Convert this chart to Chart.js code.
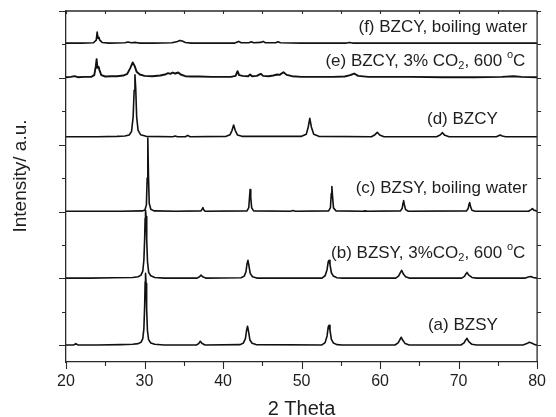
<!DOCTYPE html>
<html>
<head>
<meta charset="utf-8">
<script src="https://cdn.jsdelivr.net/npm/chart.js@4/dist/chart.umd.min.js"></script>
<style>
  html, body { margin: 0; padding: 0; background: #fff; }
  canvas { display: block; }
</style>
</head>
<body>
<canvas id="xrd-chart" width="556" height="417"></canvas>
<script>
'use strict';

// ── Data (2θ in degrees, intensity in a.u. above each pattern's baseline) ──
const patternA = [
  [20,0.01],[21.0,0.01],[21.25,0.05],[21.5,0.01],[24,0.01],[27,0.02],[28.5,0.03],[29.2,0.05],[29.55,0.09],
  [29.78,0.2],[29.92,0.5],[30.02,1.2],[30.08,1.9],[30.13,2.15],[30.2,1.85],[30.27,1.1],[30.37,0.45],[30.52,0.17],
  [30.8,0.07],[31.3,0.03],[32.5,0.01],[36.6,0.01],[36.9,0.05],[37.1,0.12],[37.3,0.06],[37.7,0.01],[42.2,0.02],
  [42.6,0.07],[42.85,0.2],[43.0,0.45],[43.12,0.57],[43.26,0.4],[43.42,0.16],[43.7,0.06],[44.2,0.02],[52.6,0.01],
  [53.0,0.08],[53.25,0.28],[53.4,0.55],[53.5,0.6],[53.62,0.45],[53.8,0.18],[54.05,0.07],[54.5,0.02],[55.2,0.01],
  [61.9,0.01],[62.3,0.07],[62.55,0.18],[62.7,0.24],[62.9,0.15],[63.2,0.05],[63.7,0.01],[70.3,0.01],[70.7,0.07],
  [70.95,0.18],[71.05,0.21],[71.3,0.11],[71.7,0.03],[72.3,0.01],[78.2,0.01],[78.7,0.05],[79.0,0.09],[79.3,0.07],
  [79.7,0.02],[80,0.01],
];
const patternB = [
  [20,0.01],[23,0.01],[26,0.02],[28.5,0.03],[29.2,0.05],[29.55,0.1],[29.78,0.22],[29.92,0.55],[30.02,1.2],
  [30.08,1.8],[30.13,2.04],[30.2,1.85],[30.28,1.15],[30.38,0.5],[30.53,0.18],[30.8,0.08],[31.3,0.03],[32.5,0.01],
  [36.7,0.01],[37.0,0.05],[37.2,0.1],[37.4,0.05],[37.8,0.01],[42.3,0.02],[42.7,0.07],[42.92,0.2],[43.05,0.43],
  [43.17,0.54],[43.3,0.38],[43.46,0.15],[43.75,0.05],[44.3,0.01],[52.6,0.01],[53.0,0.08],[53.25,0.26],
  [53.4,0.5],[53.5,0.54],[53.62,0.42],[53.8,0.17],[54.05,0.07],[54.5,0.02],[55.2,0.01],[62.0,0.01],[62.35,0.07],
  [62.6,0.18],[62.75,0.24],[62.95,0.14],[63.25,0.05],[63.7,0.01],[70.4,0.01],[70.75,0.06],[70.97,0.15],
  [71.07,0.18],[71.3,0.1],[71.7,0.03],[72.3,0.01],[78.5,0.01],[78.9,0.04],[79.2,0.06],[79.5,0.03],[80,0.01],
];
const patternC = [
  [20,0.01],[24,0.01],[27,0.01],[29.7,0.02],[30.05,0.05],[30.24,0.2],[30.34,1.0],[30.42,2.2],[30.5,1.1],
  [30.6,0.25],[30.8,0.07],[31.2,0.02],[34,0.01],[37.2,0.02],[37.35,0.08],[37.43,0.12],[37.52,0.06],[37.7,0.01],
  [43.05,0.02],[43.28,0.12],[43.39,0.48],[43.45,0.66],[43.53,0.42],[43.65,0.11],[43.9,0.02],[48.6,0.01],
  [48.9,0.03],[49.2,0.01],[53.45,0.02],[53.68,0.12],[53.79,0.55],[53.86,0.75],[53.94,0.47],[54.07,0.11],
  [54.4,0.02],[57.8,0.01],[58.1,0.02],[58.4,0.01],[62.6,0.02],[62.82,0.1],[62.95,0.28],[63.0,0.33],[63.1,0.2],
  [63.25,0.06],[63.6,0.01],[71.0,0.02],[71.22,0.09],[71.35,0.24],[71.42,0.27],[71.52,0.15],[71.7,0.04],
  [72.1,0.01],[78.9,0.01],[79.25,0.06],[79.4,0.09],[79.55,0.05],[80,0.01],
];
const patternD = [
  [20,0.01],[24,0.01],[26.5,0.02],[27.5,0.03],[28.05,0.06],[28.35,0.17],[28.55,0.6],[28.68,1.4],[28.78,1.86],
  [28.88,1.45],[29.0,0.6],[29.18,0.2],[29.5,0.07],[30.2,0.02],[33.6,0.01],[33.9,0.03],[34.2,0.01],[35.2,0.01],
  [35.5,0.05],[35.8,0.01],[40.4,0.02],[40.9,0.07],[41.15,0.2],[41.35,0.36],[41.55,0.2],[41.85,0.06],[42.4,0.02],
  [50.0,0.02],[50.6,0.08],[50.85,0.3],[51.05,0.56],[51.25,0.3],[51.55,0.08],[52.2,0.02],[58.9,0.01],[59.35,0.07],
  [59.65,0.14],[59.95,0.06],[60.5,0.01],[67.2,0.01],[67.65,0.06],[67.95,0.13],[68.25,0.05],[68.8,0.01],
  [74.8,0.01],[75.1,0.04],[75.3,0.06],[75.55,0.03],[76,0.01],[80,0.01],
];
const patternE = [
  [20,0.02],[20.6,0.03],[21.1,0.05],[21.5,0.02],[22.3,0.03],[23.2,0.03],[23.6,0.08],[23.8,0.35],[23.9,0.56],
  [24.0,0.3],[24.15,0.33],[24.25,0.24],[24.5,0.08],[25,0.04],[25.8,0.05],[26.5,0.05],[27.3,0.07],[27.8,0.12],
  [28.2,0.3],[28.5,0.46],[28.75,0.35],[29.0,0.18],[29.4,0.1],[30.0,0.06],[31,0.05],[32,0.07],[32.6,0.1],
  [33.0,0.14],[33.3,0.12],[33.6,0.16],[33.9,0.13],[34.3,0.16],[34.6,0.1],[35.2,0.05],[36,0.04],[37,0.04],
  [38.5,0.03],[40,0.03],[41.0,0.03],[41.6,0.06],[41.85,0.2],[42.05,0.08],[42.5,0.06],[43.2,0.05],[43.45,0.1],
  [43.7,0.05],[44.3,0.06],[44.8,0.12],[45.1,0.06],[45.8,0.05],[46.4,0.07],[46.9,0.1],[47.2,0.09],[47.7,0.17],
  [48.1,0.09],[48.8,0.05],[50,0.03],[52,0.03],[54,0.03],[55.5,0.04],[56.2,0.08],[56.7,0.13],[57.2,0.06],
  [58.5,0.03],[61,0.03],[64,0.03],[68,0.02],[72,0.02],[75.5,0.03],[77.0,0.05],[78,0.03],[80,0.02],
];
const patternF = [
  [20,0.01],[22,0.01],[23.5,0.02],[23.85,0.1],[23.97,0.34],[24.08,0.15],[24.2,0.18],[24.3,0.1],[24.6,0.03],
  [25.5,0.01],[27.5,0.02],[27.9,0.04],[28.3,0.02],[28.9,0.03],[29.4,0.01],[31,0.01],[33.5,0.02],[34.2,0.06],
  [34.5,0.09],[34.8,0.07],[35.2,0.03],[36,0.01],[41.5,0.01],[42.0,0.06],[42.3,0.02],[43.3,0.02],[43.6,0.05],
  [43.9,0.02],[44.8,0.03],[45.1,0.06],[45.4,0.02],[46.7,0.02],[47.0,0.05],[47.3,0.02],[50,0.01],[55.7,0.01],
  [56.1,0.03],[56.5,0.01],[60,0.01],[70,0.01],[80,0.01],
];

const patterns = [patternA, patternB, patternC, patternD, patternE, patternF];
const offsets  = [0, 2, 4, 6.23, 8.0, 9.03];

// label text split into [text, 'sub'|'sup'|''] pieces
const labelParts = [
  [['(a) BZSY', '']],
  [['(b) BZSY, 3%CO', ''], ['2', 'sub'], [', 600 ', ''], ['o', 'sup'], ['C', '']],
  [['(c) BZSY, boiling water', '']],
  [['(d) BZCY', '']],
  [['(e) BZCY, 3% CO', ''], ['2', 'sub'], [', 600 ', ''], ['o', 'sup'], ['C', '']],
  [['(f) BZCY, boiling water', '']],
];
const labelTheta = [75.0, 78.5, 78.75, 75.0, 78.5, 78.75];   // right end of label
const labelLevel = [0.6, 2.75, 4.7, 6.77, 8.5, 9.52];

const xTicks = [20, 30, 40, 50, 60, 70, 80];

const FONT = "'Liberation Sans', Arial, Helvetica, sans-serif";
const INK  = '#111';
const AXIS = '#2a2a2a';

// ── Frame, ticks, labels, axis titles ──
const xrdDecor = {
  id: 'xrdDecor',
  afterDraw(chart) {
    const { ctx, chartArea: a, scales: { x, y } } = chart;
    ctx.save();
    ctx.strokeStyle = AXIS;
    ctx.lineWidth = 1.3;
    ctx.beginPath();
    ctx.moveTo(a.left, a.top); ctx.lineTo(a.right, a.top);
    ctx.moveTo(a.right, a.top); ctx.lineTo(a.right, a.bottom);
    ctx.stroke();

    ctx.lineWidth = 1.1;
    ctx.beginPath();
    for (let t = 20; t <= 80; t += 5) {
      const px = Math.round(x.getPixelForValue(t)) + 0.5;
      const len = t % 10 === 0 ? 7 : 4;
      ctx.moveTo(px, a.bottom); ctx.lineTo(px, a.bottom + len);
      ctx.moveTo(px, a.top); ctx.lineTo(px, a.top + 3);
    }
    for (let v = 0; v <= 10; v++) {
      const py = Math.round(y.getPixelForValue(v)) + 0.5;
      const len = v % 2 === 0 ? 7 : 4;
      ctx.moveTo(a.left - len, py); ctx.lineTo(a.left, py);
      ctx.moveTo(a.right, py); ctx.lineTo(a.right + 4, py);
    }
    ctx.stroke();

    // series labels
    ctx.fillStyle = '#1e1e1e';
    ctx.textBaseline = 'middle';
    labelParts.forEach((parts, i) => {
      const widths = parts.map(([txt, kind]) => {
        ctx.font = (kind ? '11px ' : '17px ') + FONT;
        return ctx.measureText(txt).width;
      });
      let cx = x.getPixelForValue(labelTheta[i]) - widths.reduce((s, w) => s + w, 0);
      const cy = y.getPixelForValue(labelLevel[i]);
      parts.forEach(([txt, kind], k) => {
        ctx.font = (kind ? '11px ' : '17px ') + FONT;
        const dy = kind === 'sub' ? 5 : kind === 'sup' ? -6 : 0;
        ctx.fillText(txt, cx, cy + dy);
        cx += widths[k];
      });
    });

    // axis titles
    ctx.font = '20px ' + FONT;
    ctx.textAlign = 'center';
    ctx.fillText('2 Theta', (a.left + a.right) / 2, 409);
    ctx.translate(21, 176);
    ctx.rotate(-Math.PI / 2);
    ctx.font = '19px ' + FONT;
    ctx.fillText('Intensity/ a.u.', 0, 0);
    ctx.restore();
  },
};

new Chart(document.getElementById('xrd-chart'), {
  type: 'line',
  data: {
    datasets: patterns.map((pts, i) => ({
      data: pts.map(([t, v]) => ({ x: t, y: v + offsets[i] })),
      borderColor: INK,
      borderWidth: i === 4 ? 1.9 : 1.6,
      borderJoinStyle: 'round',
      pointRadius: 0,
      tension: 0,
      fill: false,
    })),
  },
  options: {
    responsive: false,
    animation: false,
    layout: { padding: { top: 11, right: 10, left: 0, bottom: 0 } },
    plugins: { legend: { display: false }, tooltip: { enabled: false } },
    scales: {
      x: {
        type: 'linear',
        min: 20,
        max: 80,
        afterBuildTicks: s => { s.ticks = xTicks.map(v => ({ value: v })); },
        ticks: { color: '#1e1e1e', font: { family: FONT, size: 16 }, padding: 10, maxRotation: 0 },
        grid: { display: false, drawTicks: false, tickLength: 0 },
        border: { display: true, color: AXIS, width: 1.3 },
        afterFit: s => { s.height = 55; },
      },
      y: {
        min: -0.5,
        max: 10,
        ticks: { display: false },
        grid: { display: false, drawTicks: false, tickLength: 0 },
        border: { display: true, color: AXIS, width: 1.3 },
        afterFit: s => { s.width = 66; },
      },
    },
  },
  plugins: [xrdDecor],
});
</script>
</body>
</html>
